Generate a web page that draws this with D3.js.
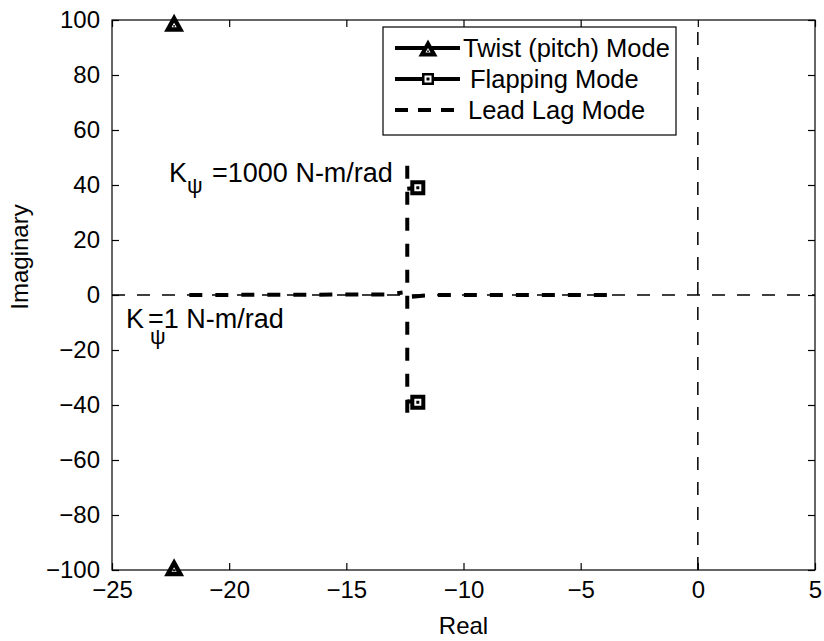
<!DOCTYPE html>
<html>
<head>
<meta charset="utf-8">
<script src="https://cdn.jsdelivr.net/npm/d3@7"></script>
<style>
body{margin:0;background:#fff;}
text{font-family:"Liberation Sans",Arial,sans-serif;fill:#000;}
</style>
</head>
<body>
<svg id="chart" width="824" height="641"></svg>
<script>
// values
var xTicks=[-25,-20,-15,-10,-5,0,5];
var yTicks=[-100,-80,-60,-40,-20,0,20,40,60,80,100];
var twistPoles=[[-22.35,99],[-22.35,-99]];
var flapUpper=[[-12.4,38.6],[-11.95,39]];
var flapLower=[[-12.4,-38.6],[-11.95,-39]];
var leadLagLeft=[[-21.7,0],[-13.3,0.2],[-12.6,0.9]];
var leadLagVert=[[-12.4,47],[-12.4,-47]];
var leadLagRight=[[-12.2,-0.6],[-11.4,0],[-3.5,0]];
var legendNames=["Twist (pitch) Mode","Flapping Mode","Lead Lag Mode"];

var svg=d3.select("#chart");
var pLeft=112,pRight=815,pTop=20,pBottom=570;

var x=d3.scaleLinear().domain([-25,5]).range([pLeft,pRight]);
var y=d3.scaleLinear().domain([-100,100]).range([pBottom,pTop]);

var line=d3.line().x(d=>x(d[0])).y(d=>y(d[1]));

// thin dashed real / imaginary axes
svg.append("line").attr("x1",x(-25)).attr("x2",x(5)).attr("y1",y(0)).attr("y2",y(0))
	.attr("stroke","#000").attr("stroke-width",1.5).attr("stroke-dasharray","13,12");
svg.append("line").attr("x1",x(0)).attr("x2",x(0)).attr("y1",y(-100)).attr("y2",y(100))
	.attr("stroke","#000").attr("stroke-width",1.5).attr("stroke-dasharray","13,12");

// lead lag mode
[leadLagLeft,leadLagVert,leadLagRight].forEach(function(seg){
	svg.append("path").attr("d",line(seg)).attr("fill","none")
		.attr("stroke","#000").attr("stroke-width",4).attr("stroke-dasharray","13,13");
});

function square(cx,cy,s){
	var g=svg.append("g").attr("transform","translate("+cx+","+cy+")");
	g.append("rect").attr("x",-s/2).attr("y",-s/2).attr("width",s).attr("height",s).attr("fill","#000");
	g.append("rect").attr("x",-3.5).attr("y",-3.5).attr("width",7).attr("height",7).attr("fill","#fff");
	g.append("rect").attr("x",-1.5).attr("y",-1.5).attr("width",3).attr("height",3).attr("fill","#000");
}
function triangle(cx,cy,s){
	var g=svg.append("g").attr("transform","translate("+cx+","+cy+")");
	var h=s*0.9;
	g.append("path").attr("d","M0,"+(-h/2)+"L"+(s/2)+","+(h/2)+"L"+(-s/2)+","+(h/2)+"Z").attr("fill","#000");
	g.append("path").attr("d","M0,0L2.6,4.5L-2.6,4.5Z").attr("fill","#fff");
	g.append("rect").attr("x",-0.8).attr("y",2.4).attr("width",1.6).attr("height",1.6).attr("fill","#000");
}

// flapping mode
[flapUpper,flapLower].forEach(function(seg){
	svg.append("path").attr("d",line(seg)).attr("fill","none")
		.attr("stroke","#000").attr("stroke-width",4);
	square(x(seg[seg.length-1][0]),y(seg[seg.length-1][1]),15);
});

// twist mode
twistPoles.forEach(function(p){
	triangle(x(p[0]),y(p[1]),20);
});

// axes box with inward ticks
svg.append("rect").attr("x",pLeft).attr("y",pTop).attr("width",pRight-pLeft).attr("height",pBottom-pTop)
	.attr("fill","none").attr("stroke","#000").attr("stroke-width",1.2);

var fmt=d=>String(d).replace("-","\u2212");
var xAxis=svg.append("g").attr("transform","translate(0,"+pBottom+")")
	.call(d3.axisBottom(x).tickValues(xTicks).tickSizeInner(-7).tickSizeOuter(0).tickPadding(11).tickFormat(fmt));
var xTop=svg.append("g").attr("transform","translate(0,"+pTop+")")
	.call(d3.axisTop(x).tickValues(xTicks).tickSizeInner(-7).tickSizeOuter(0).tickFormat(""));
var yAxis=svg.append("g").attr("transform","translate("+pLeft+",0)")
	.call(d3.axisLeft(y).tickValues(yTicks).tickSizeInner(-7).tickSizeOuter(0).tickPadding(12).tickFormat(fmt));
var yRight=svg.append("g").attr("transform","translate("+pRight+",0)")
	.call(d3.axisRight(y).tickValues(yTicks).tickSizeInner(-7).tickSizeOuter(0).tickFormat(""));

[xAxis,xTop,yAxis,yRight].forEach(function(a){
	a.select(".domain").remove();
	a.selectAll(".tick line").attr("stroke","#000").attr("stroke-width",1.2);
	a.selectAll("text").style("font-size","24px").attr("fill","#000");
});
xAxis.selectAll("text").attr("dy","0.71em");

svg.append("text").attr("x",(pLeft+pRight)/2).attr("y",634).attr("text-anchor","middle")
	.style("font-size","24px").text("Real");
svg.append("text").attr("transform","translate(28,257) rotate(-90)")
	.attr("text-anchor","middle").style("font-size","24px").text("Imaginary");

// annotations (placed in data units)
function note(xv,yv,size,txt){
	svg.append("text").attr("x",x(xv)).attr("y",y(yv)).style("font-size",size+"px").text(txt);
}
note(-22.57,41.1,27,"K");
note(-21.8,37.1,22,"\u03c8");
note(-20.73,41.1,27,"=1000 N-m/rad");
note(-24.4,-12,27,"K");
note(-23.38,-17.8,22,"\u03c8");
note(-23.46,-12,27,"=1 N-m/rad");

// legend
var lg=svg.append("g");
lg.append("rect").attr("x",383).attr("y",27).attr("width",293).attr("height",108)
	.attr("fill","#fff").attr("stroke","#000").attr("stroke-width",1.2);
legendNames.forEach(function(name,i){
	var ly=48+i*31;
	var ln=lg.append("line").attr("x1",395).attr("x2",460).attr("y1",ly).attr("y2",ly)
		.attr("stroke","#000").attr("stroke-width",4);
	if(i==2) ln.attr("stroke-dasharray","13,10");
	lg.append("text").attr("x",i==0?463:(i==1?470:468)).attr("y",ly).attr("dy","0.35em")
		.style("font-size","25.5px").text(name);
});
triangle(428,48,19);
square(428,79,12);
</script>
</body>
</html>
